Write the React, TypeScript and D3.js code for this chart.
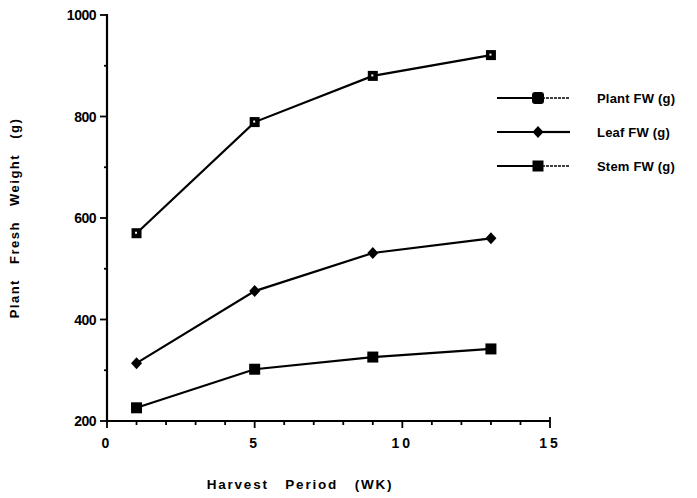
import * as d3 from 'd3'

const weeks = [1, 5, 9, 13]
const plantFW = [570, 789, 880, 921]
const leafFW = [314, 456, 531, 560]
const stemFW = [226, 302, 326, 342]

const seriesNames = ['Plant FW (g)', 'Leaf FW (g)', 'Stem FW (g)']
const yTicks = [200, 400, 600, 800, 1000]
const xTicks = [0, 5, 10, 15]

const App = () => {
    const width = 697
    const height = 498
    const margin = { left: 107, right: 147, top: 15, bottom: 77 }

    const x = d3.scaleLinear().domain([0, 15]).range([margin.left, width - margin.right])
    const y = d3.scaleLinear().domain([200, 1000]).range([height - margin.bottom, margin.top])

    const line = d3.line<[number, number]>()
        .x(d => x(d[0]))
        .y(d => y(d[1]))

    const all = [plantFW, leafFW, stemFW]
    const font = 'Liberation Sans, Arial, sans-serif'

    // 0: plant (square, tiny light centre), 1: leaf (diamond), 2: stem (square), 3: legend plant
    const marker = (kind: number, cx: number, cy: number, key: string) => {
        if (kind === 1) {
            return <path key={key} d={`M${cx},${cy - 6}L${cx + 5.5},${cy}L${cx},${cy + 6}L${cx - 5.5},${cy}Z`} fill="#000" />
        }
        if (kind === 0) {
            return (
                <g key={key}>
                    <rect x={cx - 5} y={cy - 5} width={10} height={10} fill="#000" />
                    <rect x={cx - 1.5} y={cy - 1.5} width={2} height={2} fill="#fff" />
                </g>
            )
        }
        if (kind === 3) {
            return <rect key={key} x={cx - 6} y={cy - 6} width={12} height={12} rx={3} fill="#000" />
        }
        return <rect key={key} x={cx - 5.5} y={cy - 5.5} width={11} height={11} fill="#000" />
    }

    const y0 = y(200)
    const x0 = x(0)

    return (
        <svg width={width} height={height} style={{ position: 'absolute', left: 0, top: 0, background: '#fff' }}>
            {/* axes */}
            <line x1={x0} x2={x0} y1={y(1000) - 1} y2={y0 + 1} stroke="#000" strokeWidth={2.2} />
            <line x1={x0 - 1} x2={x(15)} y1={y0} y2={y0} stroke="#000" strokeWidth={2.2} />
            {d3.range(200, 1001, 100).map(v => (
                <line key={'yt' + v} x1={x0} x2={x0 - (v % 200 === 0 ? 7 : 3)} y1={y(v)} y2={y(v)} stroke="#000" strokeWidth={1.8} />
            ))}
            {d3.range(0, 16, 1).map(v => (
                <line key={'xt' + v} x1={x(v)} x2={x(v)} y1={y0} y2={y0 + (v % 5 === 0 ? 7 : 4)} stroke="#000" strokeWidth={1.8} />
            ))}
            <line x1={x(15)} x2={x(15)} y1={y0 - 4} y2={y0} stroke="#000" strokeWidth={1.8} />
            {yTicks.map(v => (
                <text key={'yl' + v} x={x0 - 11} y={y(v) + 5} textAnchor="end" fontFamily={font} fontSize={14} fontWeight="bold" letterSpacing={-0.5}>{v}</text>
            ))}
            {xTicks.map(v => (
                <text key={'xl' + v} x={x(v)} y={y0 + 27} textAnchor="middle" fontFamily={font} fontSize={14} fontWeight="bold" letterSpacing={3}>{v}</text>
            ))}
            <text x={300} y={489} textAnchor="middle" fontFamily={font} fontSize={13.5} fontWeight="bold" letterSpacing={1.8} wordSpacing={11}>Harvest Period (WK)</text>
            <text transform={`translate(19,${(y(1000) + y0) / 2}) rotate(-90)`} textAnchor="middle" fontFamily={font} fontSize={13} fontWeight="bold" letterSpacing={1.5} wordSpacing={10}>Plant Fresh Weight (g)</text>

            {/* series */}
            {all.map((vals, i) => (
                <g key={'s' + i}>
                    <path d={line(weeks.map((w, j) => [w, vals[j]] as [number, number])) || ''} fill="none" stroke="#000" strokeWidth={2.2} />
                    {weeks.map((w, j) => marker(i, x(w), y(vals[j]), 'm' + i + j))}
                </g>
            ))}

            {/* legend */}
            {seriesNames.map((name, i) => {
                const ly = 98 + i * 34
                return (
                    <g key={'lg' + i}>
                        <line x1={497} x2={538} y1={ly} y2={ly} stroke="#000" strokeWidth={2.2} />
                        <line x1={538} x2={570} y1={ly} y2={ly} stroke="#000" strokeWidth={i === 1 ? 2.2 : 1.6} strokeDasharray={i === 1 ? undefined : '3 1'} />
                        {marker(i === 0 ? 3 : i, 538, ly, 'lm' + i)}
                        <text x={597} y={ly + 5} fontFamily={font} fontSize={13} fontWeight="bold" letterSpacing={0.2}>{name}</text>
                    </g>
                )
            })}
        </svg>
    )
}

export default App
